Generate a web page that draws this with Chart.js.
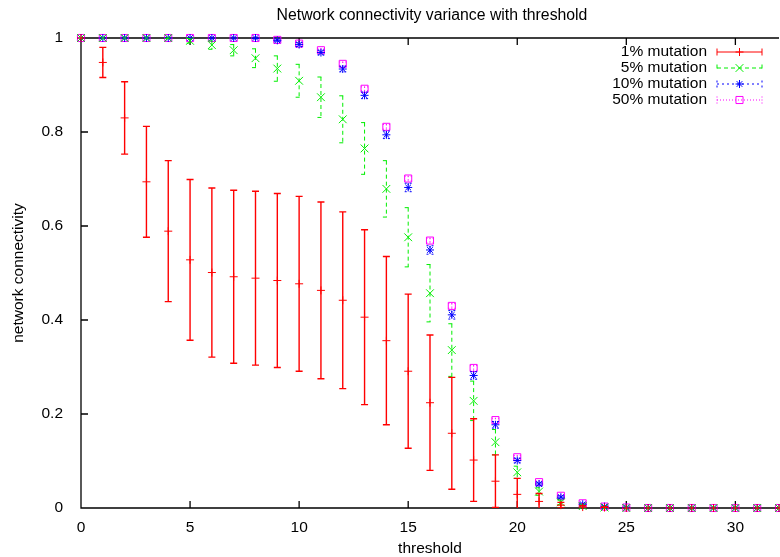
<!DOCTYPE html>
<html>
<head>
<meta charset="utf-8">
<script src="https://cdn.jsdelivr.net/npm/chart.js@4.4.0/dist/chart.umd.min.js"></script>
<style>
  html, body { margin: 0; padding: 0; background: #fff; }
  canvas { display: block; }
</style>
</head>
<body>
<canvas id="myChart" width="780" height="557"></canvas>
<script>
const thresholds = [0, 1, 2, 3, 4, 5, 6, 7, 8, 9, 10, 11, 12, 13, 14, 15, 16,
  17, 18, 19, 20, 21, 22, 23, 24, 25, 26, 27, 28, 29, 30, 31, 32];
const xTicks = [0, 5, 10, 15, 20, 25, 30];
const yTicks = [0, 0.2, 0.4, 0.6, 0.8, 1];
const seriesNames = ['1% mutation', '5% mutation', '10% mutation', '50% mutation'];
const chartTitle = 'Network connectivity variance with threshold';

// mean connectivity and its spread (error bar half-height)
const mut1Mean = [1, 0.948, 0.830, 0.694, 0.589, 0.528, 0.501, 0.492, 0.489, 0.484, 0.477,
  0.463, 0.442, 0.406, 0.356, 0.291, 0.224, 0.159, 0.102, 0.057, 0.029, 0.014, 0.006,
  0.002, 0.001, 0, 0, 0, 0, 0, 0, 0, 0];
const mut1Std = [0, 0.032, 0.077, 0.118, 0.150, 0.171, 0.180, 0.184, 0.185, 0.185, 0.186,
  0.188, 0.188, 0.186, 0.179, 0.164, 0.144, 0.119, 0.088, 0.056, 0.034, 0.017, 0.006,
  0.003, 0.001, 0, 0, 0, 0, 0, 0, 0, 0];

const mut5Mean = [1, 1, 1, 1, 1, 0.994, 0.985, 0.974, 0.957, 0.935, 0.909, 0.874, 0.827,
  0.765, 0.679, 0.576, 0.457, 0.336, 0.228, 0.140, 0.076, 0.035, 0.012, 0.004, 0.001,
  0, 0, 0, 0, 0, 0, 0, 0];
const mut5Std = [0, 0, 0, 0, 0.001, 0.005, 0.009, 0.012, 0.020, 0.027, 0.035, 0.043, 0.050,
  0.055, 0.060, 0.063, 0.061, 0.056, 0.042, 0.027, 0.013, 0.008, 0.005, 0.002, 0.001,
  0, 0, 0, 0, 0, 0, 0, 0];

const mut10Mean = [1, 1, 1, 1, 1, 1, 1, 1, 1, 0.995, 0.986, 0.969, 0.934, 0.878, 0.794,
  0.682, 0.549, 0.411, 0.282, 0.177, 0.101, 0.051, 0.023, 0.008, 0.003, 0.001,
  0, 0, 0, 0, 0, 0, 0];
const mut10Std = [0, 0, 0, 0, 0, 0, 0, 0, 0.001, 0.003, 0.004, 0.005, 0.006, 0.007, 0.008,
  0.009, 0.009, 0.009, 0.008, 0.007, 0.005, 0.004, 0.003, 0.002, 0.001, 0.001,
  0, 0, 0, 0, 0, 0, 0];

const mut50Mean = [1, 1, 1, 1, 1, 1, 1, 1, 1, 0.996, 0.988, 0.974, 0.945, 0.892, 0.811,
  0.701, 0.569, 0.430, 0.298, 0.187, 0.108, 0.055, 0.026, 0.010, 0.003, 0.001,
  0, 0, 0, 0, 0, 0, 0];
const mut50Std = [0, 0, 0, 0, 0, 0, 0, 0, 0, 0.002, 0.003, 0.003, 0.004, 0.004, 0.005,
  0.005, 0.005, 0.005, 0.005, 0.004, 0.004, 0.003, 0.002, 0.001, 0.001,
  0, 0, 0, 0, 0, 0, 0, 0];

const FONT = 'Liberation Sans, Arial, sans-serif';
const FONT_SIZE = 15.5;

const toPoints = (mean) => thresholds.map((t, i) => ({ x: t, y: mean[i] }));

const makeSet = (name, mean, std, color, style, radius, dash, errWidth) => ({
  label: name,
  data: toPoints(mean),
  errors: std,
  errDash: dash,
  errWidth: errWidth,
  showLine: false,
  borderColor: color,
  backgroundColor: 'rgba(0,0,0,0)',
  pointStyle: style,
  pointRadius: radius,
  pointBorderWidth: 1,
  clip: false,
});

const datasets = [
  makeSet(seriesNames[0], mut1Mean, mut1Std, '#ff0000', 'cross', 4, [], 1.4),
  makeSet(seriesNames[1], mut5Mean, mut5Std, '#00ee00', 'crossRot', 5.5, [4, 3], 1),
  makeSet(seriesNames[2], mut10Mean, mut10Std, '#0000ff', 'star', 4, [2, 3], 1),
  makeSet(seriesNames[3], mut50Mean, mut50Std, '#ff00ff', 'rect', 5, [1, 2], 1),
];

// vertical error bars with caps, drawn just before each dataset's markers
const errorBars = {
  id: 'errorBars',
  beforeDatasetDraw(chart, args) {
    const ds = chart.data.datasets[args.index];
    const { ctx, chartArea } = chart;
    const yScale = chart.scales.y;
    const cap = 3.5;
    ctx.save();
    ctx.beginPath();
    ctx.rect(chartArea.left, chartArea.top, chartArea.right - chartArea.left, chartArea.bottom - chartArea.top);
    ctx.clip();
    ctx.strokeStyle = ds.borderColor;
    ctx.lineWidth = ds.errWidth;
    ctx.setLineDash(ds.errDash);
    args.meta.data.forEach((pt, i) => {
      const s = ds.errors[i];
      if (!s) return;
      const m = ds.data[i].y;
      const top = yScale.getPixelForValue(m + s);
      const bot = yScale.getPixelForValue(m - s);
      ctx.beginPath();
      ctx.moveTo(pt.x, top);
      ctx.lineTo(pt.x, bot);
      ctx.moveTo(pt.x - cap, top);
      ctx.lineTo(pt.x + cap, top);
      ctx.moveTo(pt.x - cap, bot);
      ctx.lineTo(pt.x + cap, bot);
      ctx.stroke();
    });
    ctx.restore();
  }
};

// gnuplot-like frame with inward ticks (mirrored on top), title over the plot box
const frame = {
  id: 'frame',
  beforeDatasetsDraw(chart) {
    const { ctx, chartArea } = chart;
    const { left, right, top, bottom } = chartArea;
    const xs = chart.scales.x, ys = chart.scales.y;
    const tl = 7;
    ctx.save();
    ctx.strokeStyle = '#000';
    ctx.lineWidth = 1.3;
    ctx.beginPath();
    ctx.moveTo(left, top);
    ctx.lineTo(left, bottom);
    ctx.lineTo(right, bottom);
    ctx.moveTo(left, top);
    ctx.lineTo(right, top);
    xTicks.forEach(v => {
      const px = xs.getPixelForValue(v);
      ctx.moveTo(px, bottom);
      ctx.lineTo(px, bottom - tl);
      ctx.moveTo(px, top);
      ctx.lineTo(px, top + tl);
    });
    yTicks.forEach(v => {
      const py = ys.getPixelForValue(v);
      ctx.moveTo(left, py);
      ctx.lineTo(left + tl, py);
    });
    ctx.stroke();

    ctx.fillStyle = '#000';
    ctx.font = '15.8px ' + FONT;
    ctx.textAlign = 'center';
    ctx.textBaseline = 'middle';
    ctx.fillText(chartTitle, (left + right) / 2 + 2, 16);
    ctx.restore();
  }
};

// key in the top right corner, text right-aligned before the sample
const key = {
  id: 'key',
  afterDraw(chart) {
    const { ctx } = chart;
    const edge = chart.scales.x.getPixelForValue(32);
    const textRight = edge - 72;
    const x0 = edge - 62, x1 = edge - 17;
    ctx.save();
    ctx.font = FONT_SIZE + 'px ' + FONT;
    ctx.textAlign = 'right';
    ctx.textBaseline = 'middle';
    chart.data.datasets.forEach((ds, i) => {
      const y = 52 + i * 16;
      ctx.fillStyle = '#000';
      ctx.fillText(ds.label, textRight, y);
      ctx.strokeStyle = ds.borderColor;
      ctx.lineWidth = 1;
      ctx.setLineDash(ds.errDash);
      ctx.beginPath();
      ctx.moveTo(x0, y);
      ctx.lineTo(x1, y);
      ctx.moveTo(x0, y - 3.5);
      ctx.lineTo(x0, y + 3.5);
      ctx.moveTo(x1, y - 3.5);
      ctx.lineTo(x1, y + 3.5);
      ctx.stroke();
      ctx.setLineDash([]);
      ctx.fillStyle = 'rgba(0,0,0,0)';
      Chart.helpers.drawPoint(ctx, {
        pointStyle: ds.pointStyle, radius: ds.pointRadius, rotation: 0, borderWidth: 1
      }, (x0 + x1) / 2, y);
    });
    ctx.restore();
  }
};

const ctx = document.getElementById('myChart').getContext('2d');
new Chart(ctx, {
  type: 'scatter',
  data: { datasets: datasets },
  plugins: [errorBars, frame, key],
  options: {
    responsive: false,
    animation: false,
    events: [],
    layout: { autoPadding: false, padding: { left: 0, right: 1, top: 38, bottom: 0 } },
    plugins: {
      legend: { display: false },
      tooltip: { enabled: false },
      title: { display: false },
    },
    scales: {
      x: {
        type: 'linear',
        min: 0,
        max: 32,
        afterBuildTicks: (scale) => { scale.ticks = xTicks.map(v => ({ value: v })); },
        afterFit: (scale) => { scale.height = 49; },
        grid: { display: false },
        border: { display: false },
        ticks: {
          color: '#000',
          padding: 2,
          maxRotation: 0,
          font: { family: FONT, size: FONT_SIZE },
        },
        title: {
          display: true,
          text: 'threshold',
          color: '#000',
          font: { family: FONT, size: FONT_SIZE },
          padding: { top: 0, bottom: -1 },
        },
      },
      y: {
        type: 'linear',
        min: 0,
        max: 1,
        afterBuildTicks: (scale) => { scale.ticks = yTicks.map(v => ({ value: v })); },
        afterFit: (scale) => { scale.width = 81; },
        grid: { display: false },
        border: { display: false },
        ticks: {
          color: '#000',
          padding: 10,
          font: { family: FONT, size: FONT_SIZE },
          callback: (v) => String(Math.round(v * 10) / 10),
        },
        title: {
          display: true,
          text: 'network connectivity',
          color: '#000',
          font: { family: FONT, size: FONT_SIZE },
          padding: { top: 9.2, bottom: 0 },
        },
      },
    },
  },
});
</script>
</body>
</html>
